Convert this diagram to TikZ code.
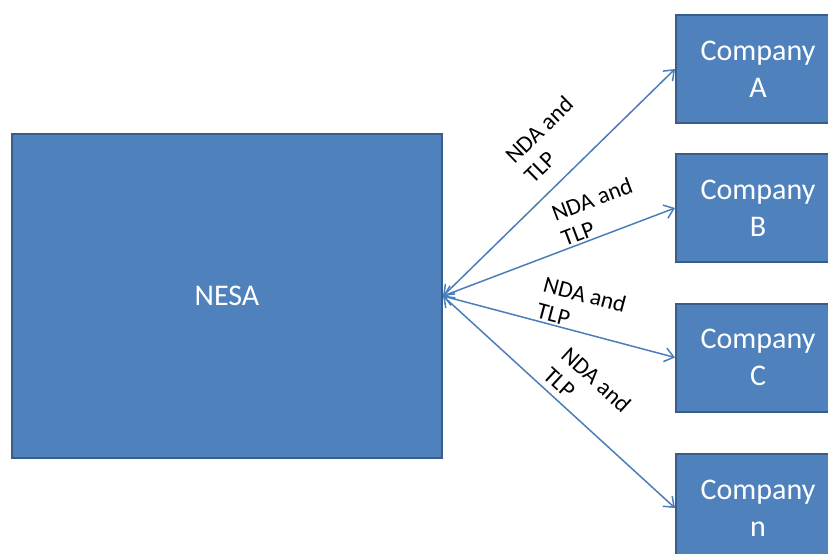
\documentclass[tikz,border=0pt]{standalone}
\usepackage{fontspec}
\setmainfont{Carlito}
\usetikzlibrary{arrows.meta}

\definecolor{boxfill}{HTML}{4F81BD}
\definecolor{boxline}{HTML}{385D8A}
\definecolor{linkcol}{HTML}{4A7EBB}

\tikzset{
  party/.style={draw=boxline, line width=2pt, fill=boxfill, text=white, align=center,
    font=\fontsize{30}{37}\selectfont},
  company/.style={party, minimum width=164pt, minimum height=108pt},
  link/.style={draw=linkcol, line width=1.5pt,
    {Straight Barb[length=9pt,width=14pt]}-{Straight Barb[length=9pt,width=14pt]}},
  terms/.style={sloped, above, align=left, inner sep=2pt, font=\fontsize{23.5}{27}\selectfont}
}

\begin{document}
\begin{tikzpicture}[x=1pt,y=-1pt]
	\useasboundingbox (0,0) rectangle (828,554);
	\node [party, minimum width=430pt, minimum height=324pt] (nesa) at (227,296) {NESA};
	\node [company] (a) at (758,69) {Company\\A};
	\node [company] (b) at (758,208) {Company\\B};
	\node [company] (c) at (758,357.5) {Company\\C};
	\node [company] (n) at (758,508) {Company\\n};
	% NDA and TLP links
	\draw [link] (nesa.east) -- node [terms, pos=0.57, yshift=14pt] {NDA and\\TLP} (a.west);
	\draw [link] (nesa.east) -- node [terms, pos=0.7] {NDA and\\TLP} (b.west);
	\draw [link] (nesa.east) -- node [terms, pos=0.57] {NDA and\\TLP} (c.west);
	\draw [link] (nesa.east) -- node [terms, pos=0.54, yshift=4pt] {NDA and\\TLP} (n.west);
\end{tikzpicture}
\end{document}
